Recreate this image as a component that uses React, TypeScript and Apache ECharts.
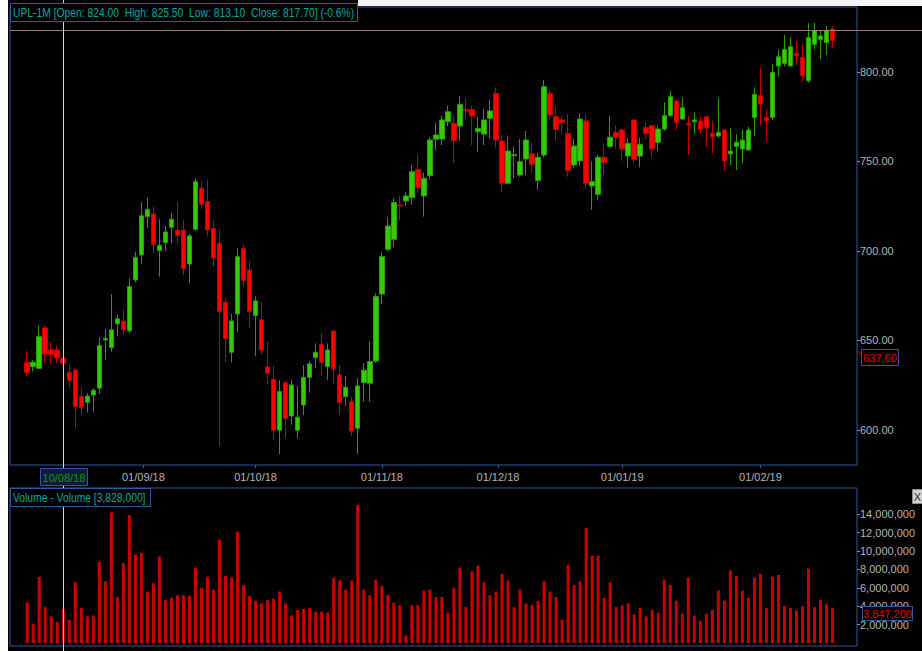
import React, { useEffect, useRef } from 'react';
import * as echarts from 'echarts';

// ---- Data ----
const OPEN = [637.8,635.4,634.4,657.0,644.7,644.7,640.0,632.2,633.5,618.8,
615.4,619.5,623.3,650.3,646.0,659.3,660.8,655.3,683.8,697.8,
719.2,720.7,700.2,704.7,713.2,711.7,711.7,692.7,712.1,735.0,
727.6,712.5,704.3,671.3,643.4,664.8,701.3,689.4,663.9,661.5,
635.2,628.3,599.8,626.4,607.8,599.8,613.9,629.4,640.4,647.8,
635.4,655.3,630.7,618.6,615.8,600.9,626.5,626.1,638.5,675.9,
700.9,706.5,725.7,727.9,729.8,745.6,730.7,742.1,762.4,762.5,
772.2,771.3,769.8,779.1,779.1,766.6,765.3,774.1,788.1,761.4,
737.8,753.2,742.4,751.4,754.2,739.3,753.6,788.1,775.0,773.2,
765.7,748.0,750.3,772.6,736.3,731.6,752.3,758.3,766.3,767.6,
753.0,773.2,753.0,768.9,770.0,760.7,768.1,775.6,783.8,773.7,
771.3,772.2,772.6,775.0,765.7,764.2,767.6,754.2,758.3,757.0,
756.4,774.5,786.7,774.5,774.6,803.3,804.8,803.3,810.4,808.0,
795.1,815.4,818.2,816.5,824.0];

const CLOSE = [632.2,637.8,652.1,642.4,642.2,640.4,637.2,627.4,613.0,612.6,
618.9,622.1,647.1,651.2,655.9,662.1,655.9,680.1,696.3,719.6,
723.3,703.4,703.2,710.6,717.7,708.6,690.1,708.4,738.7,726.1,
711.7,696.1,666.1,650.9,660.9,696.8,683.4,666.1,672.1,644.7,
631.7,599.8,621.5,606.5,625.1,607.1,629.3,636.9,643.4,637.8,
644.7,634.1,615.4,623.8,599.4,624.6,633.4,638.2,674.5,696.8,
713.9,727.0,725.1,730.7,744.3,735.5,740.6,762.0,764.8,773.2,
777.8,761.6,781.9,778.4,775.4,768.5,773.2,778.2,762.0,737.8,
755.8,753.8,749.9,762.0,748.4,752.3,791.8,776.0,767.9,771.7,
744.9,758.6,773.7,737.8,738.7,752.3,749.3,763.5,763.5,757.0,
760.1,751.2,759.6,765.7,757.0,768.1,775.6,786.2,771.9,780.0,
770.4,773.2,768.1,768.9,763.8,766.3,750.3,755.8,760.7,762.0,
767.6,787.5,782.1,772.8,799.8,808.5,812.6,814.1,809.1,797.9,
819.3,823.1,820.1,823.1,817.7];

const LOW = [630.1,632.6,634.0,637.6,636.7,637.2,636.9,623.3,600.9,608.4,
609.7,610.2,620.1,639.1,643.8,652.2,653.1,654.0,682.5,692.6,
712.7,698.7,685.7,700.0,704.3,703.9,686.4,682.0,711.4,723.5,
708.0,691.3,590.7,637.8,637.8,654.6,680.1,657.4,641.5,642.3,
625.3,594.8,586.5,595.0,603.0,595.3,608.4,620.8,634.4,630.1,
627.9,626.0,608.4,613.4,596.6,586.6,615.8,615.8,637.5,670.4,
699.6,702.4,717.3,725.1,726.0,732.6,719.2,740.0,756.4,759.2,
769.8,749.3,761.6,773.5,759.2,755.5,759.2,762.9,757.7,732.8,
737.8,740.6,741.5,742.4,743.4,734.1,752.3,773.5,762.0,765.2,
741.5,746.2,747.5,735.0,722.9,728.5,742.4,757.5,757.3,750.3,
746.2,749.3,746.7,762.4,752.1,755.8,767.2,775.0,767.9,773.2,
753.6,765.2,765.7,758.3,754.5,763.3,745.2,748.0,745.2,748.9,
756.4,764.4,770.2,760.7,773.1,797.9,803.0,803.3,803.9,794.6,
794.0,812.6,807.0,809.5,813.1];

const HIGH = [644.1,639.1,658.3,658.3,649.0,647.1,640.6,637.2,633.5,623.8,
620.5,623.3,651.6,656.4,675.8,664.3,667.1,684.7,699.6,727.2,
729.8,724.8,717.7,714.0,721.4,727.2,717.3,709.5,740.6,739.1,
739.7,717.3,711.7,673.6,664.8,701.5,703.4,694.6,674.5,671.3,
649.4,635.8,627.8,627.0,627.9,624.6,636.3,638.2,648.4,654.0,
648.4,655.3,636.3,630.1,618.6,628.9,637.2,649.7,676.4,699.2,
718.8,729.4,730.7,733.1,748.0,754.0,743.7,763.5,771.7,775.6,
781.2,775.0,786.7,785.6,781.2,775.0,779.3,784.3,791.4,764.8,
763.8,758.3,762.4,767.0,760.1,754.5,795.5,789.9,780.6,775.4,
776.5,762.4,776.9,776.3,749.9,753.6,760.1,775.6,770.0,768.5,
762.9,773.2,763.3,771.9,770.0,770.0,783.0,789.5,784.7,785.6,
775.6,777.4,775.0,775.0,772.6,785.6,767.6,768.9,765.2,767.6,
769.4,791.4,802.6,778.9,804.4,812.6,820.6,819.3,817.5,816.0,
827.2,827.5,823.1,825.7,825.5];

// volume in millions of shares
const VOLUME_M = [4.4,2.1,7.2,3.9,2.9,2.3,3.7,2.5,6.6,3.8,
2.9,3.0,8.8,6.7,14.2,5.0,8.7,13.9,9.6,9.8,
5.6,6.5,9.4,4.7,4.9,5.2,5.2,5.1,8.2,6.0,
7.2,5.8,11.2,7.3,7.1,12.1,6.3,5.1,4.6,4.3,
4.7,4.8,5.6,4.3,3.0,3.6,3.7,3.8,3.4,3.4,
3.3,7.1,6.8,5.8,6.8,15.0,5.8,5.2,6.9,6.2,
5.2,4.4,4.1,0.8,4.1,4.1,5.7,5.8,5.0,5.0,
3.3,6.0,8.2,3.9,7.8,8.4,6.6,5.2,5.6,7.5,
6.8,3.9,5.8,4.3,4.1,4.6,6.7,5.6,5.0,2.5,
8.5,6.3,6.7,12.5,9.5,9.5,4.9,6.6,3.9,4.1,
4.3,3.1,3.8,2.9,3.6,3.3,6.9,6.3,4.6,3.2,
7.1,3.0,2.4,3.2,3.6,5.7,4.6,7.9,7.3,5.7,
4.9,7.1,7.5,3.8,7.2,7.4,4.0,3.8,3.5,4.0,
8.1,3.9,4.7,4.2,3.828];

const PRICE_TICKS = [600, 650, 700, 750, 800];
const VOLUME_TICKS_M = [2, 4, 6, 8, 10, 12, 14];
const START_DATE = '2018-08-02';
const HOLIDAYS = ['2018-08-15','2018-08-22','2018-09-13','2018-09-20','2018-10-02','2018-10-18','2018-11-08','2018-11-23','2018-12-25'];
const MONTH_STARTS = ['2018-09-01','2018-10-01','2018-11-01','2018-12-01','2019-01-01','2019-02-01'];
const CURSOR_INDEX = 6;
const CURSOR_PRICE_LABEL = '637.60';
const CURSOR_VOLUME_LABEL = '3,847,200';
const REF_LINE_PRICE = 823.5;
const LEGEND_TEXT = 'UPL-1M [Open: 824.00  High: 825.50  Low: 813.10  Close: 817.70] (-0.6%)';
const VOLUME_LEGEND_TEXT = 'Volume - Volume [3,828,000]';

// ---- helpers ----
const DAY = 86400000;
function tradingDays(start: string, count: number): number[] {
  const out: number[] = [];
  let t = Date.parse(start + 'T00:00:00Z');
  const hol = new Set(HOLIDAYS);
  while (out.length < count) {
    const d = new Date(t);
    const wd = d.getUTCDay();
    const iso = d.toISOString().slice(0, 10);
    if (wd !== 0 && wd !== 6 && !hol.has(iso)) out.push(t);
    t += DAY;
  }
  return out;
}
function fmtDate(t: number): string {
  const d = new Date(t);
  const dd = String(d.getUTCDate()).padStart(2, '0');
  const mm = String(d.getUTCMonth() + 1).padStart(2, '0');
  const yy = String(d.getUTCFullYear()).slice(2);
  return dd + '/' + mm + '/' + yy;
}

const FONT = '"Liberation Sans", Arial, sans-serif';
const BORDER = '#34589c';
const AXIS_TEXT = '#b4b4b4';
const TEAL = '#00a8a8';

export default function App() {
  const ref = useRef<HTMLDivElement>(null);
  useEffect(() => {
    if (!ref.current) return;
    const chart = echarts.init(ref.current, null, { renderer: 'svg' });
    const n = OPEN.length;
    const days = tradingDays(START_DATE, n);
    // month label positions (interpolated between trading days)
    const monthPos: number[] = [];
    const monthLabel: Record<string, string> = {};
    MONTH_STARTS.forEach((ms) => {
      const t = Date.parse(ms + 'T00:00:00Z');
      let i = 0;
      while (i + 1 < n && days[i + 1] <= t) i++;
      let pos = i;
      if (days[i] !== t && i + 1 < n) pos = i + (t - days[i]) / (days[i + 1] - days[i]);
      pos = Math.round(pos * 1000) / 1000;
      monthPos.push(pos);
      monthLabel[String(pos)] = fmtDate(t);
    });

    const X_MIN = -2.86;
    const X_MAX = 138.07;

    const candleData = OPEN.map((o, i) => [i, o, CLOSE[i], LOW[i], HIGH[i]]);
    const volData = VOLUME_M.map((v, i) => [i, v]);

    chart.setOption({
      animation: false,
      backgroundColor: '#000000',
      grid: [
        { left: 2, top: 7, width: 847, height: 458, show: true, borderColor: BORDER, borderWidth: 1, backgroundColor: 'transparent' },
        { left: 2, top: 488, width: 847, height: 158, show: true, borderColor: BORDER, borderWidth: 1, backgroundColor: 'transparent' },
      ],
      xAxis: [
        {
          type: 'value', gridIndex: 0, min: X_MIN, max: X_MAX,
          axisLine: { show: false, onZero: false },
          splitLine: { show: false },
          axisTick: { show: true, customValues: monthPos, length: 3, lineStyle: { color: BORDER } },
          axisLabel: {
            show: true, customValues: monthPos, color: AXIS_TEXT, fontFamily: FONT, fontSize: 11, margin: 6,
            formatter: (v: number) => monthLabel[String(Math.round(v * 1000) / 1000)] || '',
          },
        },
        {
          type: 'value', gridIndex: 1, min: X_MIN, max: X_MAX,
          axisLine: { show: false, onZero: false }, axisTick: { show: false }, axisLabel: { show: false }, splitLine: { show: false },
        },
      ],
      yAxis: [
        {
          type: 'value', gridIndex: 0, position: 'right', min: 580.4, max: 836.3,
          axisLine: { show: false, onZero: false },
          splitLine: { show: false },
          axisTick: { show: true, customValues: PRICE_TICKS, length: 3, lineStyle: { color: '#7f8fb0' } },
          axisLabel: {
            show: true, customValues: PRICE_TICKS, color: AXIS_TEXT, fontFamily: FONT, fontSize: 11, margin: 3,
            formatter: (v: number) => v.toFixed(2),
          },
        },
        {
          type: 'value', gridIndex: 1, position: 'right', min: -0.326, max: 16.85,
          axisLine: { show: false, onZero: false },
          splitLine: { show: false },
          axisTick: { show: true, customValues: VOLUME_TICKS_M, length: 3, lineStyle: { color: '#7f8fb0' } },
          axisLabel: {
            show: true, customValues: VOLUME_TICKS_M, color: AXIS_TEXT, fontFamily: FONT, fontSize: 11, margin: 3,
            formatter: (v: number) => Math.round(v * 1e6).toLocaleString('en-US'),
          },
        },
      ],
      series: [
        {
          type: 'candlestick', name: 'UPL-1M', xAxisIndex: 0, yAxisIndex: 0,
          data: candleData,
          encode: { x: 0, y: [1, 2, 3, 4] },
          barWidth: 5,
          itemStyle: { color: '#33cc00', color0: '#ff0000', borderColor: '#2a9e00', borderColor0: '#c40000', borderWidth: 1 },
        },
        {
          type: 'bar', name: 'Volume', xAxisIndex: 1, yAxisIndex: 1,
          data: volData,
          barWidth: 3,
          itemStyle: { color: '#cc0000' },
        },
      ],
    });

    const cx = Math.round(chart.convertToPixel({ gridIndex: 0 }, [CURSOR_INDEX, 700])[0]) + 0.5;
    const refY = Math.round(chart.convertToPixel({ gridIndex: 0 }, [0, REF_LINE_PRICE])[1]) + 0.5;
    const textStyle = (text: string, x: number, y: number, fill: string, align = 'left', size = 11) => ({
      text, x, y, fill, fontFamily: FONT, fontSize: size, align, verticalAlign: 'middle',
    });

    chart.setOption({
      graphic: [
        { type: 'rect', z: 40, shape: { x: 350, y: 0, width: 564, height: 6 }, style: { fill: '#f4f4f4' } },
        { type: 'line', z: 50, shape: { x1: 2, y1: refY, x2: 914, y2: refY }, style: { stroke: '#9c7c7c', lineWidth: 1 } },
        { type: 'line', z: 50, shape: { x1: cx, y1: 0, x2: cx, y2: 651 }, style: { stroke: '#e6cccc', lineWidth: 1 } },
        // price legend
        { type: 'rect', z: 60, shape: { x: 2.5, y: 3.5, width: 347, height: 18 }, style: { fill: '#000000', stroke: BORDER, lineWidth: 1 } },
        { type: 'text', z: 61, x: 5, y: 13, scaleX: 0.86, style: textStyle(LEGEND_TEXT, 0, 0, TEAL, 'left', 12) },
        // volume legend
        { type: 'rect', z: 60, shape: { x: 2.5, y: 488.5, width: 140, height: 18 }, style: { fill: '#000000', stroke: BORDER, lineWidth: 1 } },
        { type: 'text', z: 61, x: 5, y: 498, scaleX: 0.86, style: textStyle(VOLUME_LEGEND_TEXT, 0, 0, TEAL, 'left', 12) },
        // cursor date label
        { type: 'rect', z: 60, shape: { x: cx - 23, y: 468.5, width: 47, height: 17 }, style: { fill: '#0e1a38', stroke: BORDER, lineWidth: 1 } },
        { type: 'text', z: 61, style: textStyle(fmtDate(days[CURSOR_INDEX]), cx + 0.5, 477.5, '#00a000', 'center') },
        // cursor price label
        { type: 'line', z: 60, shape: { x1: 849, y1: 350, x2: 853, y2: 355 }, style: { stroke: '#d00000', lineWidth: 1 } },
        { type: 'rect', z: 60, shape: { x: 853.5, y: 349.5, width: 37, height: 16 }, style: { fill: '#000000', stroke: BORDER, lineWidth: 1 } },
        { type: 'text', z: 61, style: textStyle(CURSOR_PRICE_LABEL, 872, 358, '#e00000', 'center') },
        // cursor volume label
        { type: 'rect', z: 60, shape: { x: 854.5, y: 606.5, width: 50, height: 14 }, style: { fill: '#000000', stroke: BORDER, lineWidth: 1 } },
        { type: 'text', z: 61, style: textStyle(CURSOR_VOLUME_LABEL, 879.5, 614, '#e00000', 'center') },
        // close button
        { type: 'rect', z: 60, shape: { x: 904.5, y: 489.5, width: 10, height: 14 }, style: { fill: '#d4d4d4', stroke: '#8c8c8c', lineWidth: 1 } },
        { type: 'text', z: 61, style: textStyle('X', 909.5, 497, '#303030', 'center') },
      ],
    });

    return () => chart.dispose();
  }, []);

  return (
    <div
      ref={ref}
      style={{ position: 'absolute', left: 8, top: 0, width: 914, height: 651, background: '#000000' }}
    />
  );
}
